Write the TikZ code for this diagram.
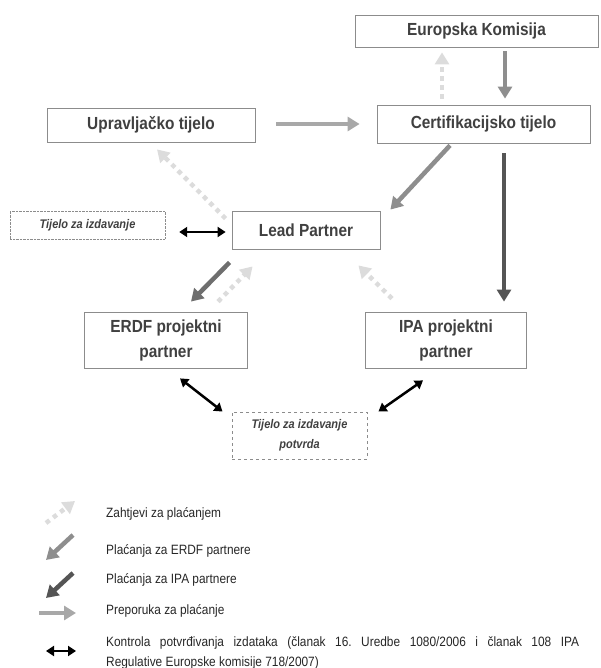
\documentclass[tikz,border=0pt]{standalone}
\usepackage{fontspec}
\setmainfont{Liberation Sans}[FakeStretch=0.88]
\usetikzlibrary{arrows.meta}
\definecolor{okvir}{HTML}{8C8C8C}
\definecolor{tekst}{HTML}{404040}
\definecolor{zahtjev}{HTML}{DCDCDC}
\definecolor{erdfpl}{HTML}{8E8E8E}
\definecolor{ipapl}{HTML}{555555}
\definecolor{preporuka}{HTML}{A8A8A8}
\frenchspacing

\begin{document}
\begin{tikzpicture}[x=1pt, y=-1pt,
	tijelo/.style={draw=okvir, line width=0.8pt, text=tekst, align=center,
		font=\fontsize{17.5}{25}\selectfont\bfseries, inner sep=0pt},
	izdavanje/.style={draw=okvir, text=tekst, align=center, inner sep=0pt,
		font=\fontsize{12.5}{20}\selectfont\bfseries\itshape},
	zahtjevi/.style={draw=zahtjev, line width=4.5pt, dash pattern=on 4.5pt off 4.5pt,
		-{Triangle[length=12pt, width=14pt]}},
	placanje/.style={line width=4.5pt, -{Triangle[length=12pt, width=14pt]}},
	kontrola/.style={black, line width=2.5pt, {Triangle[length=8pt, width=10pt]}-{Triangle[length=8pt, width=10pt]}},
	legenda/.style={anchor=west, inner sep=0pt, text=black!85, font=\fontsize{13.5}{20}\selectfont}]
	\useasboundingbox (0,0) rectangle (600,668);
	
	%%% Tijela
	\node[tijelo, minimum width=243pt, minimum height=32pt] (ek) at (476.5,31) {Europska Komisija};
	\node[tijelo, minimum width=208pt, minimum height=34pt] (uprav) at (151,125) {Upravljačko tijelo};
	\node[tijelo, minimum width=213pt, minimum height=38pt] (cert) at (483.5,124) {Certifikacijsko tijelo};
	\node[tijelo, minimum width=148pt, minimum height=38pt] (lead) at (306,230) {Lead Partner};
	\node[tijelo, minimum width=163pt, minimum height=56pt] (erdf) at (166,340) {ERDF projektni\\partner};
	\node[tijelo, minimum width=161pt, minimum height=56pt] (ipa) at (446,340) {IPA projektni\\partner};
	\node[izdavanje, densely dotted, minimum width=155pt, minimum height=28pt] (izd) at (87.5,225) {Tijelo za izdavanje};
	\node[izdavanje, dashed, line width=0.9pt, minimum width=135pt, minimum height=47pt] (potv) at (299.5,435.5) {Tijelo za izdavanje\\potvrda};
	
	%%% Zahtjevi za plaćanjem
	\draw[zahtjevi, shorten <=6pt, shorten >=5pt] ([xshift=-41.5pt]cert.north) -- ([xshift=-41.5pt]cert.north |- ek.south);
	\draw[zahtjevi] ([xshift=-6pt, yshift=-8pt]lead.north west) -- ([xshift=6pt, yshift=-7pt]uprav.south);
	\draw[zahtjevi] ([xshift=52pt, yshift=10pt]erdf.north) -- ([xshift=21pt, yshift=-17pt]lead.south west);
	\draw[zahtjevi] ([xshift=-54pt, yshift=13pt]ipa.north) -- ([xshift=-22pt, yshift=-16pt]lead.south east);
	
	%%% Plaćanja
	\draw[placanje, erdfpl, shorten <=4pt, shorten >=6pt] ([xshift=21.5pt]cert.north |- ek.south) -- ([xshift=21.5pt]cert.north);
	\draw[placanje, erdfpl] ([xshift=-33.5pt, yshift=-2pt]cert.south) -- ([xshift=10pt, yshift=1pt]lead.north east);
	\draw[placanje, ipapl!85!white] ([xshift=-2pt, yshift=-13pt]lead.south west) -- ([xshift=25pt, yshift=10pt]erdf.north);
	\draw[placanje, ipapl, shorten <=10pt, shorten >=10pt] ([xshift=20.5pt]cert.south) -- ([xshift=20.5pt]cert.south |- ipa.north);
	
	%%% Preporuka
	\draw[placanje, preporuka] ([xshift=21pt, yshift=1pt]uprav.east) -- ([xshift=-17pt]cert.west);
	
	%%% Kontrola
	\draw[kontrola] ([xshift=14pt, yshift=-7pt]izd.east) -- ([xshift=-6pt, yshift=-2pt]lead.west);
	\draw[kontrola] ([xshift=14pt, yshift=-10pt]erdf.south) -- ([xshift=-9pt]potv.north west);
	\draw[kontrola] ([xshift=11pt]potv.north east) -- ([xshift=-23pt, yshift=-12pt]ipa.south);
	
	%%% Legenda
	\draw[zahtjevi] (46,523) -- (75,501);
	\node[legenda] (leg1) at (106,514) {Zahtjevi za plaćanjem};
	\draw[placanje, erdfpl] (73,535) -- (46,560);
	\node[legenda] (leg2) at (106,551) {Plaćanja za ERDF partnere};
	\draw[placanje, ipapl] (73,573) -- (46,598);
	\node[legenda] (leg3) at (106,580) {Plaćanja za IPA partnere};
	\draw[placanje, preporuka] (39,613) -- (76,613);
	\node[legenda] (leg4) at (106,611) {Preporuka za plaćanje};
	\draw[kontrola] (46,651) -- (76,651);
	\node[legenda, text width=473pt, align=justify] (leg5) at (106,653)
		{Kontrola potvrđivanja izdataka (članak 16. Uredbe 1080/2006 i članak 108 IPA\linebreak Regulative Europske komisije 718/2007)};
	
\end{tikzpicture}
\end{document}
